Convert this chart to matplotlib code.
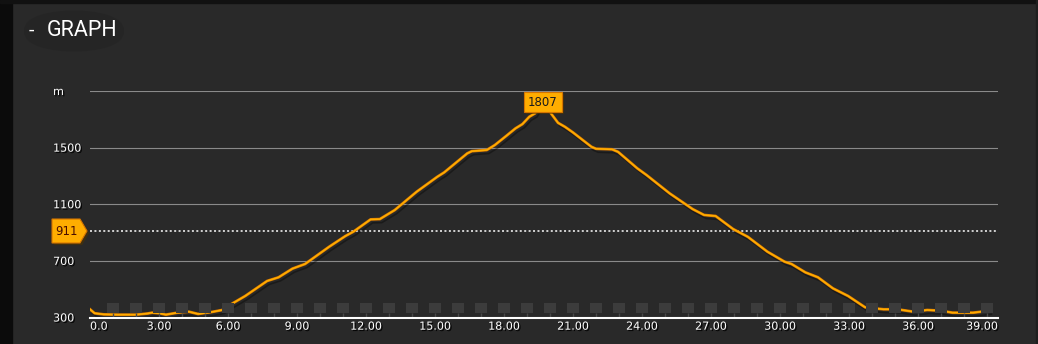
import numpy as np
import matplotlib
matplotlib.use("Agg")
import matplotlib.pyplot as plt
import matplotlib.patheffects as pe
from matplotlib import font_manager
from matplotlib.patches import Polygon, FancyBboxPatch
from matplotlib.transforms import blended_transform_factory, ScaledTranslation

# --- elevation profile (km, m) ---
dist_km = [0.0, 0.2, 0.6, 1.2, 2.0, 2.5, 2.7, 3.0, 3.3, 3.8, 4.3, 4.7, 5.3, 5.75,
           6.2, 6.75, 7.7, 8.2, 8.8, 9.35, 10.4, 11.1, 11.45, 12.2, 12.6, 13.25,
           14.2, 15.1, 15.4, 16.4, 16.6, 17.25, 17.6, 18.1, 18.5, 18.8, 19.1,
           19.35, 19.55, 19.75, 19.9, 20.05, 20.35, 20.65, 21.0, 21.8, 22.0,
           22.7, 22.96, 23.8, 24.2, 25.2, 26.2, 26.7, 27.2, 27.96, 28.6, 29.45,
           30.2, 30.5, 31.1, 31.65, 32.3, 32.96, 33.7, 34.5, 35.1, 35.8, 36.4,
           37.0, 37.5, 38.4, 39.1]
elev_m = [358, 330, 322, 320, 320, 328, 334, 330, 320, 334, 341, 325, 339, 353,
          400, 452, 558, 584, 645, 678, 800, 875, 906, 993, 995, 1059,
          1188, 1294, 1325, 1459, 1475, 1483, 1518, 1583, 1636, 1666, 1718,
          1742, 1795, 1807, 1790, 1740, 1675, 1647, 1607, 1506, 1492,
          1488, 1470, 1353, 1306, 1177, 1066, 1024, 1017, 925, 870, 765,
          694, 678, 619, 584, 506, 452, 372, 358, 358, 341, 353,
          348, 334, 334, 348]

avg_elev = 911
y_ticks = [300, 700, 1100, 1500, 1900]
y_labels = ["300", "700", "1100", "1500", "m"]
x_ticks = list(range(0, 40, 3))
x_labels = ["0.0"] + [f"{v:.2f}" for v in x_ticks[1:]]
km_marks = list(range(1, 40))

BG = "#292929"
ORANGE = "#ffad00"
ORANGE_DARK = "#d57400"

names = {f.name for f in font_manager.fontManager.ttflist}
title_font = "Liberation Sans Narrow" if "Liberation Sans Narrow" in names else "Roboto"

fig = plt.figure(figsize=(10.38, 3.44), dpi=100, facecolor=BG)

# dark frame strips
fig.add_artist(plt.Rectangle((0, 0), 12 / 1038, 1, transform=fig.transFigure,
                             color="#0b0b0b", zorder=0))
fig.add_artist(plt.Rectangle((0, 1 - 3 / 344), 1, 3 / 344, transform=fig.transFigure,
                             color="#111111", zorder=0))
fig.add_artist(plt.Rectangle((1036 / 1038, 0), 2 / 1038, 1, transform=fig.transFigure,
                             color="#1e1e1e", zorder=0))

# title
fig.add_artist(FancyBboxPatch((24 / 1038, 1 - 52 / 344), 100 / 1038, 42 / 344,
                              boxstyle="round,pad=0,rounding_size=0.06",
                              transform=fig.transFigure, fc="#252525", ec="none",
                              zorder=0.5))
fig.text(29 / 1038, 1 - 31 / 344, "-", color="white", fontsize=14,
         family=title_font, va="center")
fig.text(47 / 1038, 1 - 31 / 344, "GRAPH", color="white", fontsize=15.5,
         family=title_font, va="center")

ax = fig.add_axes([90 / 1038, (344 - 317.5) / 344, 908 / 1038, 226.5 / 344])
ax.set_facecolor("none")
ax.set_xlim(0, 908 / 23)
ax.set_ylim(300, 1900)

for s in ["top", "right", "left"]:
    ax.spines[s].set_visible(False)
ax.spines["bottom"].set_color("white")
ax.spines["bottom"].set_linewidth(1.5)
ax.spines["bottom"].set_zorder(6)

shadow = [pe.withSimplePatchShadow(offset=(1, -1), shadow_rgbFace="black", alpha=0.9)]

ax.set_yticks(y_ticks)
ax.set_yticklabels(y_labels)
ax.tick_params(axis="y", length=0, pad=26.6, labelsize=8, labelcolor="white")
for lab in ax.get_yticklabels():
    lab.set_horizontalalignment("left")
    lab.set_path_effects(shadow)
ax.grid(axis="y", color="#8a8a8a", linewidth=0.8)
ax.set_axisbelow(True)

ax.set_xticks(x_ticks)
ax.set_xticklabels(x_labels)
ax.tick_params(axis="x", length=0, pad=3, labelsize=8, labelcolor="white")
xl = ax.get_xticklabels()
for lab in xl:
    lab.set_path_effects(shadow)
xl[0].set_horizontalalignment("left")
xl[-1].set_transform(xl[-1].get_transform() + ScaledTranslation(-0.05, 0, fig.dpi_scale_trans))

# average line
ax.axhline(avg_elev, color="white", linewidth=1.1, linestyle=(0, (1.3, 1.6)), zorder=2)

# profile
ax.plot(dist_km, elev_m, color=ORANGE, linewidth=1.2, zorder=3, solid_joinstyle="round",
        path_effects=[pe.SimpleLineShadow(offset=(1.5, -2.5), shadow_color="black", alpha=0.35),
                      pe.Stroke(linewidth=2.0, foreground=ORANGE_DARK),
                      pe.Normal()])

# km markers
ax.vlines(km_marks, 300, 332, color="#4a4a4a", linewidth=1, zorder=3.5)
ax.bar(km_marks, 70, bottom=332, width=0.48, color="#3c3c3c", zorder=4)

# peak label
i_peak = int(np.argmax(elev_m))
t = ax.annotate(str(elev_m[i_peak]), (dist_km[i_peak], elev_m[i_peak]),
                xytext=(-1, 1.5), textcoords="offset points", ha="center", va="center",
                fontsize=8.5, color="#1a1a1a", zorder=7,
                bbox=dict(boxstyle="square,pad=0.32", fc=ORANGE, ec=ORANGE_DARK, lw=0.8))
t.get_bbox_patch().set_path_effects([pe.withSimplePatchShadow(offset=(1.5, -1.5), alpha=0.6)])

# average marker on the left
tr = blended_transform_factory(ax.transAxes, ax.transData)
h = 12 * 1600 / 226.5
poly = Polygon([(-38 / 908, avg_elev + h), (-10 / 908, avg_elev + h), (-3 / 908, avg_elev),
                (-10 / 908, avg_elev - h), (-38 / 908, avg_elev - h)],
               closed=True, transform=tr, fc=ORANGE, ec=ORANGE_DARK, lw=0.8,
               clip_on=False, zorder=7,
               path_effects=[pe.withSimplePatchShadow(offset=(1.5, -1.5), alpha=0.6)])
ax.add_patch(poly)
ax.text(-24 / 908, avg_elev, str(avg_elev), transform=tr, ha="center", va="center",
        fontsize=8.5, color="#4a0e00", zorder=8, clip_on=False)

fig.savefig("out.png", dpi=100, facecolor=BG)
